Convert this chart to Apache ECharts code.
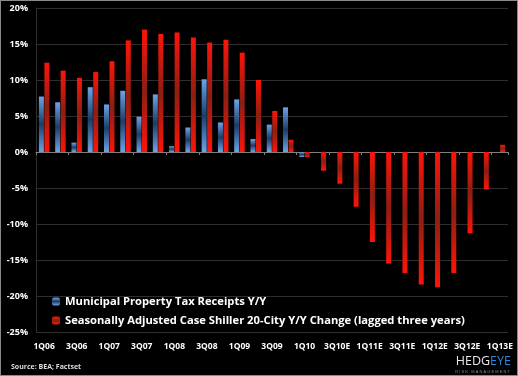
<!DOCTYPE html>
<html>
<head>
<meta charset="utf-8">
<script src="https://cdn.jsdelivr.net/npm/echarts@6/dist/echarts.min.js"></script>
<style>
  html, body { margin: 0; padding: 0; background: #000; }
  #main { width: 516px; height: 374px; border: 1px solid #8a8a8a; }
</style>
</head>
<body>
<div id="main"></div>
<script>
// quarters 1Q06 .. 1Q13E
var quarters = [
  "1Q06", "2Q06", "3Q06", "4Q06", "1Q07", "2Q07", "3Q07", "4Q07",
  "1Q08", "2Q08", "3Q08", "4Q08", "1Q09", "2Q09", "3Q09", "4Q09",
  "1Q10", "2Q10", "3Q10E", "4Q10E", "1Q11E", "2Q11E", "3Q11E", "4Q11E",
  "1Q12E", "2Q12E", "3Q12E", "4Q12E", "1Q13E"
];
// Municipal Property Tax Receipts Y/Y (%)
var taxReceipts = [
  7.7, 6.9, 1.3, 9.0, 6.6, 8.5, 4.9, 8.0,
  0.8, 3.4, 10.1, 4.1, 7.3, 1.8, 3.8, 6.2,
  -0.7, null, null, null, null, null, null, null,
  null, null, null, null, null
];
// Case Shiller 20-City Y/Y, lagged three years (%)
var caseShiller = [
  12.4, 11.3, 10.3, 11.1, 12.6, 15.5, 17.0, 16.4,
  16.6, 15.9, 15.2, 15.6, 13.8, 10.0, 5.7, 1.7,
  -0.7, -2.6, -4.4, -7.6, -12.5, -15.5, -16.8, -18.4,
  -18.8, -16.8, -11.3, -5.2, 1.0
];

var myChart = echarts.init(document.getElementById("main"));
var font = "'Open Sans', sans-serif";

function barGrad(end, mid) {
  return new echarts.graphic.LinearGradient(0, 0, 0, 1, [
    { offset: 0, color: end },
    { offset: 0.5, color: mid },
    { offset: 1, color: end }
  ]);
}

var option = {
  backgroundColor: "#000",
  animation: false,
  grid: { left: 35, right: 9, top: 7, bottom: 43 },
  legend: {
    orient: "vertical",
    left: 46,
    top: 290,
    itemWidth: 8,
    itemHeight: 8,
    itemGap: 8,
    textStyle: { color: "#fff", fontSize: 11.2, fontWeight: "bold", fontFamily: font },
    data: ["Municipal Property Tax Receipts Y/Y", "Seasonally Adjusted Case Shiller 20-City Y/Y Change (lagged three years)"]
  },
  xAxis: [
    {
      type: "category",
      data: quarters,
      position: "bottom",
      axisLine: { onZero: false, show: false },
      axisTick: { show: false },
      axisLabel: {
        interval: 1,
        color: "#fff",
        fontSize: 8.5,
        fontWeight: "bold",
        fontFamily: font,
        margin: 10
      }
    },
    {
      type: "category",
      data: quarters,
      position: "bottom",
      axisLine: { onZero: true, lineStyle: { color: "#808080", width: 1 } },
      axisTick: { show: true, interval: 1, length: 3, inside: false, lineStyle: { color: "#808080" } },
      axisLabel: { show: false }
    }
  ],
  yAxis: {
    type: "value",
    min: -25,
    max: 20,
    interval: 5,
    axisLine: { show: true, lineStyle: { color: "#303030" } },
    axisTick: { show: false },
    splitLine: { lineStyle: { color: "#2e2e2e", width: 1 } },
    axisLabel: {
      formatter: "{value}%",
      color: "#fff",
      fontSize: 9,
      fontWeight: "bold",
      fontFamily: font,
      margin: 8
    }
  },
  series: [
    {
      name: "Municipal Property Tax Receipts Y/Y",
      type: "bar",
      data: taxReceipts,
      barWidth: 5,
      barGap: "10%",
      itemStyle: { color: barGrad("#6da3ea", "#1d3d66") }
    },
    {
      name: "Seasonally Adjusted Case Shiller 20-City Y/Y Change (lagged three years)",
      type: "bar",
      data: caseShiller,
      barWidth: 5,
      itemStyle: { color: barGrad("#ff1408", "#8c1e12") }
    }
  ],
  graphic: [
    {
      type: "text",
      left: 10,
      top: 362,
      style: { text: "Source: BEA; Factset", fill: "#ddd", font: "bold 7px " + font }
    },
    {
      type: "text",
      right: 6,
      top: 354,
      style: {
        text: "{a|HEDG}{b|EYE}",
        rich: {
          a: { fill: "#e8e8e8", font: "12.5px 'Open Sans', sans-serif" },
          b: { fill: "#2f86d8", font: "12.5px 'Open Sans', sans-serif" }
        }
      }
    },
    {
      type: "text",
      right: 7,
      top: 369,
      style: { text: "R I S K   M A N A G E M E N T", fill: "#888", font: "4px sans-serif" }
    }
  ]
};

myChart.setOption(option);
</script>
</body>
</html>
